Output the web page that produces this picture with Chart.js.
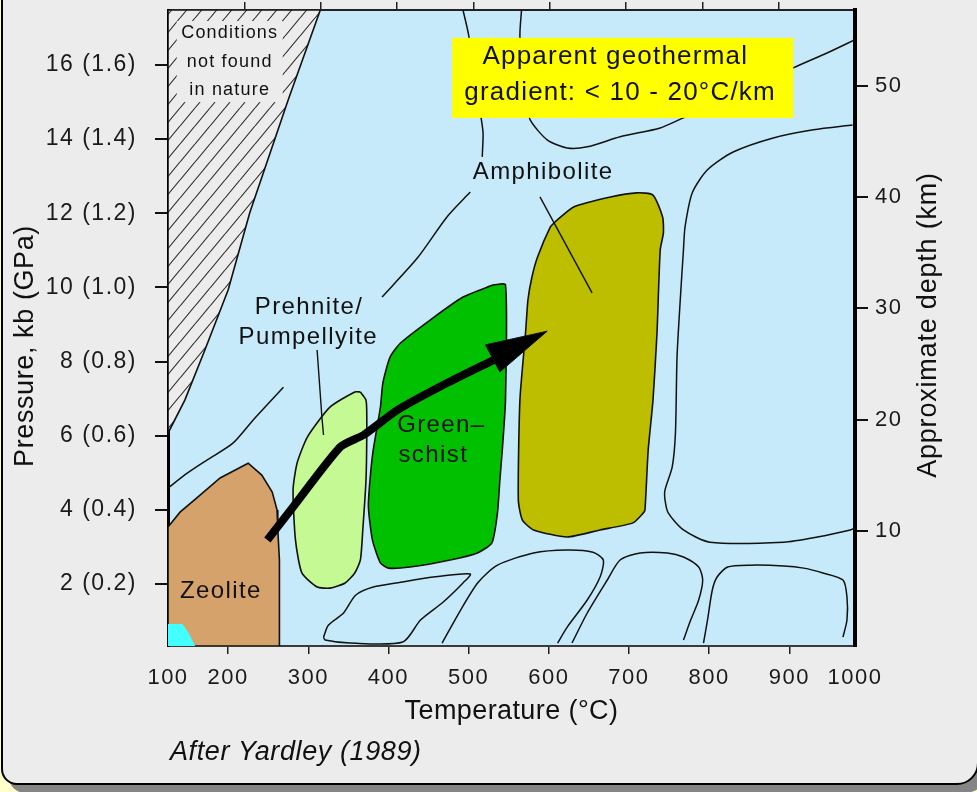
<!DOCTYPE html>
<html>
<head>
<meta charset="utf-8">
<title>Metamorphic facies – Yardley (1989)</title>
<script src="https://cdn.jsdelivr.net/npm/chart.js@4.4.1/dist/chart.umd.min.js"></script>
<style>
  html, body { margin: 0; padding: 0; }
  body { width: 977px; height: 792px; overflow: hidden; background: #ffffcc; position: relative; }
  #frame {
    position: absolute; left: 1px; top: -40px; width: 978px; height: 825px;
    box-sizing: border-box; border: 2px solid #000; border-radius: 0 0 22px 16px;
    background: #ececec; box-shadow: 8px 8px 0 #858585;
  }
  #chart { position: absolute; left: 0; top: 0; }
</style>
</head>
<body>
<div id="frame"></div>
<canvas id="chart" width="977" height="792"></canvas>
<script>
"use strict";

// axes: temperature (°C, bottom), pressure (kb, left), depth (km, right)
const tempMin = 125, tempMax = 982;
const tempTicks = [125, 200, 300, 400, 500, 600, 700, 800, 900, 982];
const tempLabels = ["100", "200", "300", "400", "500", "600", "700", "800", "900", "1000"];
const topTicks = [200, 300, 400, 500, 600, 700, 800, 900];
const pressMin = 0.33, pressMax = 17.48;
const pressTicks = [2, 4, 6, 8, 10, 12, 14, 16];
const pressLabels = ["2 (0.2)", "4 (0.4)", "6 (0.6)", "8 (0.8)", "10 (1.0)", "12 (1.2)", "14 (1.4)", "16 (1.6)"];
const depthMin = -0.36, depthMax = 56.83;
const depthTicks = [10, 20, 30, 40, 50];

// facies fields, outline as temperature / pressure
const hatchT = [125, 315, 275, 227, 200, 171, 146, 125];
const hatchP = [17.48, 17.48, 15.06, 12.01, 9.93, 8.31, 6.96, 6.07];
const zeoliteT = [125, 125, 140, 165, 190, 225, 242, 255, 261, 262, 264, 264];
const zeoliteP = [0.33, 3.54, 3.94, 4.40, 4.86, 5.26, 4.94, 4.48, 4.00, 3.46, 2.65, 0.33];
const cyanT = [125, 125, 143, 150, 159];
const cyanP = [0.33, 0.92, 0.92, 0.71, 0.33];
const prehniteT = [365, 372, 373, 372, 368, 365, 358, 346, 327, 311, 292, 284, 281, 286, 299, 327, 358];
const prehniteP = [7.18, 6.96, 6.42, 4.81, 3.46, 2.65, 2.30, 2.03, 1.89, 1.92, 2.30, 3.19, 4.54, 5.26, 5.97, 6.77, 7.18];
const greenT = [531, 546, 546, 542, 539, 536, 529, 511, 477, 427, 400, 390, 380, 375, 377, 381, 390, 393, 402, 415, 452, 493];
const greenP = [10.07, 10.07, 6.96, 5.61, 4.81, 3.92, 3.11, 2.84, 2.65, 2.46, 2.43, 2.57, 3.19, 4.08, 4.81, 5.61, 6.77, 7.42, 8.12, 8.50, 9.12, 9.74];
const amphT = [608, 631, 677, 710, 730, 742, 743, 739, 735, 730, 724, 720, 718, 705, 664, 623, 581, 567, 562, 564, 571, 574, 579, 586, 602];
const amphP = [11.77, 12.17, 12.44, 12.55, 12.49, 11.90, 11.47, 11.01, 8.77, 6.96, 5.61, 4.00, 3.92, 3.65, 3.46, 3.27, 3.46, 3.73, 4.27, 6.96, 8.77, 9.66, 10.28, 10.82, 11.63];

// reaction curves (null = break in the line)
const curveAT = [125, 149, 174, 206, 231, 269, null, 392, 436, 473, 502, null, 517, 518, 514, 506, 500, 493];
const curveAP = [4.59, 4.99, 5.35, 5.80, 6.42, 7.31, null, 9.74, 10.79, 11.90, 12.57, null, 13.52, 14.17, 14.79, 15.87, 16.81, 17.48];
const curveBT = [566, 564, 571, 577, 598, 623, 648, 689, 739, 768, 839, 905, 947, 982];
const curveBP = [17.48, 16.76, 15.06, 14.51, 13.98, 13.76, 13.79, 14.06, 14.30, 14.57, 15.19, 15.92, 16.32, 16.68];
const curveCT = [979, 930, 880, 830, 798, 779, 770, 768, 764, 760, 758, 754, 745, 745, 749, 768, 801, 893, 935, 976, 982];
const curveCP = [14.38, 14.25, 14.03, 13.65, 13.17, 12.55, 11.63, 11.01, 9.66, 8.12, 6.07, 5.16, 4.54, 4.27, 3.92, 3.46, 3.13, 3.13, 3.27, 3.46, 3.51];
const lensT = [319, 325, 344, 359, 381, 415, 456, 502, 493, 468, 440, 418, 352, 321];
const lensP = [0.57, 0.89, 1.22, 1.70, 1.92, 2.05, 2.19, 2.27, 2.03, 1.51, 1.03, 0.44, 0.41, 0.49];
const loop1T = [467, 490, 512, 536, 581, 623, 655, 668, 664, 648, 623, 611];
const loop1P = [0.41, 1.30, 2.05, 2.51, 2.84, 2.92, 2.86, 2.65, 2.19, 1.57, 0.84, 0.41];
const loop2T = [629, 648, 673, 689, 714, 748, 768, 787, 792, 787, 777, 768];
const loop2P = [0.41, 1.22, 2.11, 2.65, 2.84, 2.84, 2.73, 2.46, 2.11, 1.57, 1.03, 0.49];
const loop3T = [793, 798, 804, 810, 823, 851, 893, 918, 942, 967, 972, 972, 967];
const loop3P = [0.41, 1.03, 1.84, 2.19, 2.46, 2.51, 2.49, 2.43, 2.30, 2.11, 1.65, 1.03, 0.57];

// label leaders and the P-T path arrow
const leaderPumpT = [311, 317, 319];
const leaderPumpP = [8.31, 6.50, 6.02];
const leaderAmphT = [589, 654];
const leaderAmphP = [12.44, 9.85];
const arrowT = [249, 281, 340, 369, 411, 473, 531, 564];
const arrowP = [3.19, 4.08, 5.70, 6.02, 6.69, 7.42, 8.04, 8.39];
const headT = [521, 598, 539];
const headP = [8.45, 8.82, 7.72];

// text on the plot, anchored in temperature / pressure
const faciesNames = [
  { text: "Zeolite", t: 191, p: 1.81 },
  { text: "Prehnite/", t: 301, p: 9.47 },
  { text: "Pumpellyite", t: 300, p: 8.64 },
  { text: "Green–", t: 466, p: 6.29 },
  { text: "schist", t: 456, p: 5.48 },
  { text: "Amphibolite", t: 593, p: 13.09 },
];
const forbiddenLines = ["Conditions", "not found", "in nature"];
const forbiddenT = 202, forbiddenP = [16.86, 16.08, 15.32];
const gradientLines = ["Apparent geothermal", "gradient: < 10 - 20°C/km"];
const gradientT = [683, 689], gradientP = [16.22, 15.25];
const gradientBox = { t0: 479.5, t1: 905, p0: 14.57, p1: 16.73 };

const FONT = "'Liberation Sans', Arial, Helvetica, sans-serif";
const INK = "#111";

const pts = (ts, ps) => ts.map((t, i) => ({ x: t, y: ps[i] }));
const closed = (ts, ps) => pts(ts.concat(ts[0]), ps.concat(ps[0]));

function field(ts, ps, color, tension, border = true) {
  return {
    data: closed(ts, ps),
    showLine: true,
    fill: "shape",
    backgroundColor: color,
    borderColor: INK,
    borderWidth: border ? 1.6 : 0,
    pointRadius: 0,
    tension,
  };
}

function curve(data, width = 1.5, tension = 0.25) {
  return {
    data,
    showLine: true,
    fill: false,
    borderColor: INK,
    borderWidth: width,
    pointRadius: 0,
    spanGaps: false,
    tension,
  };
}

const canvas = document.getElementById("chart");

function hatchPattern() {
  const c = document.createElement("canvas");
  c.width = 15;
  c.height = 18;
  const g = c.getContext("2d");
  g.fillStyle = "#ececec";
  g.fillRect(0, 0, 15, 18);
  g.strokeStyle = "#2a2a2a";
  g.lineWidth = 1.1;
  g.beginPath();
  for (const dx of [-15, 0, 15]) {
    g.moveTo(dx, 18);
    g.lineTo(dx + 15, 0);
  }
  g.stroke();
  return canvas.getContext("2d").createPattern(c, "repeat");
}

function text(ctx, str, x, y, size, spacing, opts = {}) {
  ctx.save();
  ctx.font = (opts.italic ? "italic " : "") + size + "px " + FONT;
  ctx.letterSpacing = spacing + "px";
  ctx.fillStyle = opts.color || INK;
  ctx.textAlign = opts.align || "center";
  ctx.textBaseline = "middle";
  ctx.translate(x, y);
  if (opts.rotate) ctx.rotate(opts.rotate);
  ctx.fillText(str, 0, 0);
  ctx.restore();
}

// fixed box sizes so the plot area lands where the original has it
const fitTo = (w, h) => (s) => {
  if (w != null) s.width = w;
  if (h != null) s.height = h;
  s.paddingTop = s.paddingBottom = s.paddingLeft = s.paddingRight = 0;
};

const facies = {
  id: "facies",
  beforeDraw(chart) {
    const { ctx, chartArea: a } = chart;
    ctx.save();
    ctx.fillStyle = "#c6eaf9";
    ctx.fillRect(a.left, a.top, a.right - a.left, a.bottom - a.top);
    ctx.restore();
    ctx.letterSpacing = "1.5px"; // tick labels
  },
  afterDatasetsDraw(chart) {
    const { ctx, scales: { x, y } } = chart;

    // note inside the hatched field, on a cleared patch
    const fx = x.getPixelForValue(forbiddenT);
    const fy = forbiddenP.map((p) => y.getPixelForValue(p));
    ctx.save();
    ctx.fillStyle = "#ececec";
    ctx.fillRect(fx - 53, fy[0] - 12, 106, fy[2] - fy[0] + 24);
    ctx.restore();
    forbiddenLines.forEach((s, i) => text(ctx, s, fx, fy[i], 18, 1.2));

    // yellow gradient note
    const bx0 = x.getPixelForValue(gradientBox.t0), bx1 = x.getPixelForValue(gradientBox.t1);
    const by0 = y.getPixelForValue(gradientBox.p1), by1 = y.getPixelForValue(gradientBox.p0);
    ctx.save();
    ctx.fillStyle = "#ffff00";
    ctx.fillRect(bx0, by0, bx1 - bx0, by1 - by0);
    ctx.restore();
    gradientLines.forEach((s, i) =>
      text(ctx, s, x.getPixelForValue(gradientT[i]), y.getPixelForValue(gradientP[i]), 26, 1.2));

    faciesNames.forEach((n) => text(ctx, n.text, x.getPixelForValue(n.t), y.getPixelForValue(n.p), 24, 1.4));
  },
  afterDraw(chart) {
    const { ctx, chartArea: a } = chart;
    const cx = (a.left + a.right) / 2;
    const cy = (a.top + a.bottom) / 2;
    text(ctx, "Temperature (°C)", cx, 712, 27, 0.4);
    text(ctx, "Pressure, kb (GPa)", 26, cy + 18, 27, 0.6, { rotate: -Math.PI / 2 });
    text(ctx, "Approximate depth (km)", 929, cy - 3, 27, 0.8, { rotate: -Math.PI / 2 });
    text(ctx, "After Yardley (1989)", 170, 752, 27, 0.6, { italic: true, align: "left" });
  },
};

const tickFont = (size) => ({ family: FONT, size });

const chart = new Chart(canvas, {
  type: "scatter",
  data: {
    datasets: [
      { ...field(headT, headP, "#000", 0), borderWidth: 1 },
      { ...curve(pts(arrowT, arrowP), 8, 0.2), borderColor: "#000", borderCapStyle: "butt" },
      curve(pts(leaderPumpT, leaderPumpP), 1.4, 0),
      curve(pts(leaderAmphT, leaderAmphP), 1.4, 0),
      curve(pts(curveAT, curveAP)),
      curve(pts(curveBT, curveBP)),
      curve(pts(curveCT, curveCP)),
      curve(closed(lensT, lensP)),
      curve(pts(loop1T, loop1P)),
      curve(pts(loop2T, loop2P)),
      curve(pts(loop3T, loop3P)),
      field(amphT, amphP, "#bebe00", 0.2),
      field(greenT, greenP, "#00c000", 0.2),
      field(prehniteT, prehniteP, "#c5f993", 0.2),
      field(cyanT, cyanP, "#44ffff", 0, false),
      field(zeoliteT, zeoliteP, "#d6a26c", 0),
      field(hatchT, hatchP, hatchPattern(), 0),
    ],
  },
  options: {
    responsive: false,
    animation: false,
    events: [],
    layout: { padding: 0 },
    plugins: { legend: { display: false }, tooltip: { enabled: false } },
    scales: {
      x: {
        type: "linear",
        position: "bottom",
        min: tempMin,
        max: tempMax,
        z: 1,
        afterBuildTicks: (s) => { s.ticks = tempTicks.map((v) => ({ value: v })); },
        afterFit: fitTo(null, 146),
        ticks: {
          autoSkip: false,
          maxRotation: 0,
          padding: 11,
          color: "#1a1a1a",
          font: tickFont(22),
          callback: (v, i) => tempLabels[i],
        },
        grid: {
          drawOnChartArea: false,
          tickLength: 8,
          lineWidth: 1.5,
          color: (c) => (c.tick && (c.tick.value === tempMin || c.tick.value === tempMax) ? "rgba(0,0,0,0)" : "#222"),
        },
        border: { color: "#3a3a3a", width: 2 },
      },
      x2: {
        type: "linear",
        position: "top",
        min: 100,
        max: 1000,
        z: 1,
        afterBuildTicks: (s) => { s.ticks = topTicks.map((v) => ({ value: v })); },
        afterFit: fitTo(null, 10),
        ticks: { display: false },
        grid: { drawOnChartArea: false, tickLength: 8, lineWidth: 1.5, color: "#222" },
        border: { color: "#222", width: 2 },
      },
      y: {
        type: "linear",
        position: "left",
        min: pressMin,
        max: pressMax,
        z: 1,
        afterBuildTicks: (s) => { s.ticks = pressTicks.map((v) => ({ value: v })); },
        afterFit: fitTo(168, null),
        ticks: {
          autoSkip: false,
          padding: 18,
          color: "#1a1a1a",
          font: tickFont(23),
          callback: (v, i) => pressLabels[i],
        },
        grid: { drawOnChartArea: false, tickLength: 13, lineWidth: 2, color: "#111" },
        border: { color: "#000", width: 3 },
      },
      y2: {
        type: "linear",
        position: "right",
        min: depthMin,
        max: depthMax,
        z: 1,
        afterBuildTicks: (s) => { s.ticks = depthTicks.map((v) => ({ value: v })); },
        afterFit: fitTo(122, null),
        ticks: { autoSkip: false, padding: 7, color: "#1a1a1a", font: tickFont(22) },
        grid: { drawOnChartArea: false, tickLength: 13, lineWidth: 2, color: "#111" },
        border: { color: "#000", width: 4 },
      },
    },
  },
  plugins: [facies],
});
</script>
</body>
</html>
